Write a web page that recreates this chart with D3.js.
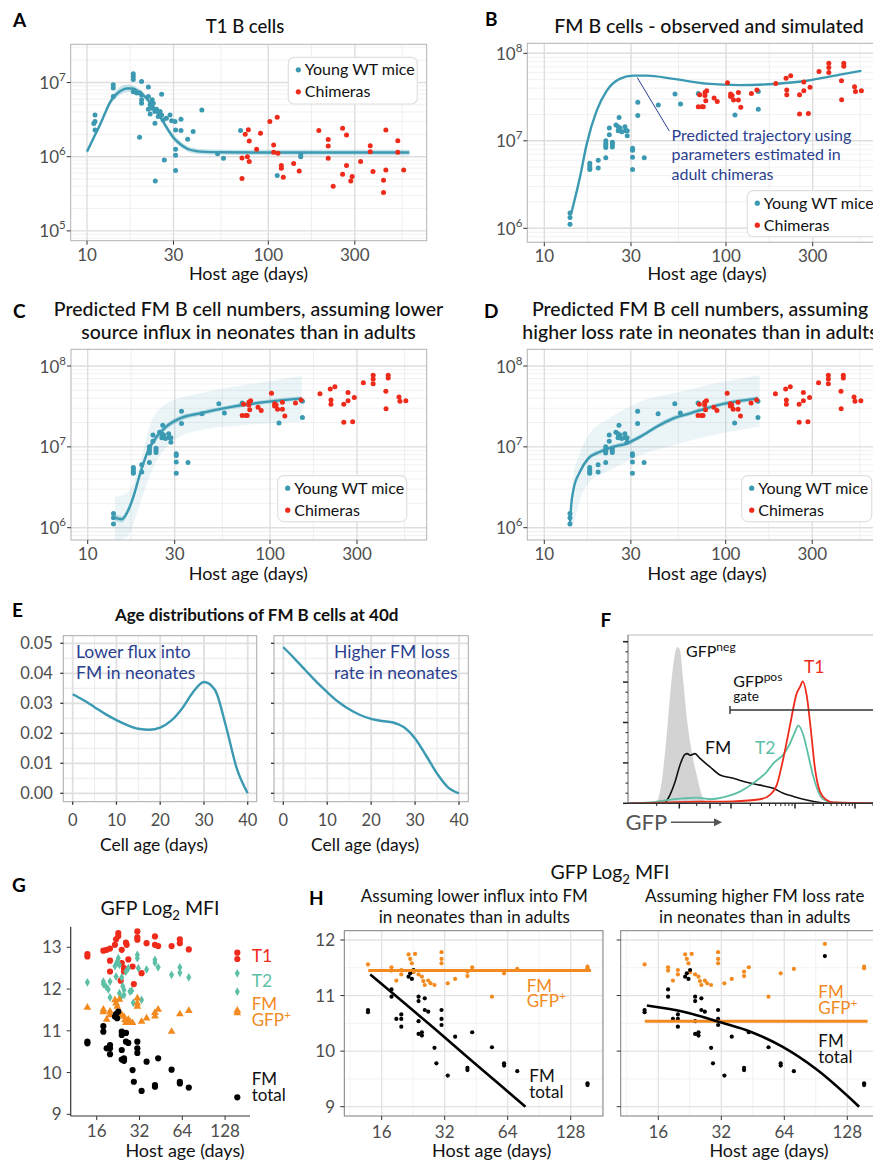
<!DOCTYPE html>
<html>
<head>
<meta charset="utf-8">
<title>FM B cell dynamics</title>
<script src="https://cdn.jsdelivr.net/npm/d3@7"></script>
<style>
  body { margin: 0; background: #fff; }
  svg { display: block; }
  text { font-family: Lato, "Open Sans", "DejaVu Sans", sans-serif; }
</style>
</head>
<body>
<div id="fig"></div>
<script>
/* ---------- values ---------- */

/* A : T1 B cells */
const t1YoungAge = [10.9, 11.07, 11.07, 11.07, 13.96, 13.96, 13.96, 18, 18, 18, 20, 21.8, 18, 18.8, 19.6, 20, 20, 20, 21.8, 22.3, 22.9, 23.2, 21.8, 22.3, 22.9, 23.7, 24.2, 24.7, 25.3, 25.8, 23.7, 19.5, 25.8, 26.3, 27.4, 28.7, 29.3, 30.6, 30.8, 33, 33, 38.5, 35.9, 43, 30.8, 30.8, 30.8, 23.8, 26.7, 52.5, 56.6, 70.3, 112, 151, 151];
const t1YoungCount = [2.8e6, 3.66e6, 2.97e6, 2.29e6, 9.3e6, 8.4e6, 6.5e6, 1.31e7, 1.2e7, 1.1e7, 1.03e7, 8.7e6, 7.5e6, 7.2e6, 7.2e6, 6.8e6, 5.84e6, 5.27e6, 6.46e6, 5.0e6, 5.84e6, 5.27e6, 4.37e6, 3.77e6, 4.5e6, 4.06e6, 4.37e6, 3.47e6, 4.06e6, 3.66e6, 2.82e6, 1.83e6, 6.95e6, 3.13e6, 3.3e6, 3.66e6, 3.06e6, 2.97e6, 2.29e6, 3.2e6, 2.25e6, 2.18e6, 1.72e6, 4.27e6, 1.26e6, 1.05e6, 0.65e6, 0.47e6, 0.9e6, 1.1e6, 0.95e6, 2.25e6, 0.56e6, 1.0e6, 1.07e6];
const t1ChimAge = [71.6, 71.6, 74.6, 77.6, 76.7, 78.5, 78.5, 86.2, 90.6, 102, 112, 107, 107, 113, 118, 118, 121, 138, 148, 190, 214, 214, 214, 228, 257, 257, 270, 270, 285, 290, 323, 365, 365, 378, 432, 432, 445, 445, 518, 518, 558];
const t1ChimCount = [0.96e6, 0.51e6, 2.0e6, 2.3e6, 1.0e6, 1.63e6, 0.86e6, 1.26e6, 2.07e6, 2.97e6, 3.4e6, 1.44e6, 1.15e6, 1.11e6, 0.76e6, 0.70e6, 0.53e6, 0.81e6, 0.64e6, 2.25e6, 1.71e6, 1.39e6, 0.95e6, 0.40e6, 2.41e6, 0.58e6, 1.96e6, 0.76e6, 0.47e6, 0.54e6, 0.86e6, 1.41e6, 1.17e6, 0.63e6, 0.48e6, 0.33e6, 2.29e6, 0.66e6, 1.64e6, 1.15e6, 0.66e6];
const t1FitAge = [10, 11, 11.8, 12.6, 13.4, 14.3, 15.3, 16.5, 17.8, 19.2, 20.8, 22.5, 24.2, 26, 28, 30, 33, 36, 40, 45, 55, 100, 600];
const t1Fit = [1.17e6, 1.9e6, 2.7e6, 3.9e6, 5.4e6, 6.7e6, 7.7e6, 8.3e6, 8.3e6, 7.6e6, 6.5e6, 5.2e6, 4.1e6, 3.1e6, 2.3e6, 1.8e6, 1.45e6, 1.27e6, 1.19e6, 1.16e6, 1.15e6, 1.14e6, 1.14e6];
const t1FitLo = [1.1e6, 1.75e6, 2.5e6, 3.6e6, 4.9e6, 6.0e6, 6.9e6, 7.4e6, 7.5e6, 7.0e6, 6.0e6, 4.8e6, 3.8e6, 2.85e6, 2.1e6, 1.65e6, 1.33e6, 1.17e6, 1.1e6, 1.07e6, 1.06e6, 1.05e6, 1.05e6];
const t1FitHi = [1.25e6, 2.05e6, 2.95e6, 4.3e6, 6.0e6, 7.5e6, 8.7e6, 9.3e6, 9.2e6, 8.3e6, 7.0e6, 5.6e6, 4.5e6, 3.4e6, 2.55e6, 2.0e6, 1.6e6, 1.38e6, 1.29e6, 1.26e6, 1.25e6, 1.24e6, 1.24e6];

/* B, C, D : FM B cells */
const fmYoungAge = [13.85, 13.85, 13.85, 17.8, 17.8, 17.8, 17.8, 19.8, 19.8, 21.8, 21.8, 21.8, 21.8, 21.8, 22.8, 22.8, 23.7, 23.7, 23.7, 24.8, 25.5, 25.8, 25.5, 26.1, 26.7, 27.8, 28.0, 28.6, 28.6, 30.6, 30.6, 30.6, 30.6, 32.7, 32.7, 35.5, 42.4, 52.4, 56.2, 70.4, 112, 150.6, 150.6];
const fmYoungCount = [1.5e6, 1.33e6, 1.11e6, 5.55e6, 5.2e6, 4.9e6, 4.7e6, 6.0e6, 4.9e6, 6.4e6, 1.0e7, 9.3e6, 8.8e6, 8.4e6, 1.4e7, 1.17e7, 9.6e6, 9.0e6, 8.5e6, 1.52e7, 1.45e7, 1.85e7, 1.3e7, 1.4e7, 1.27e7, 1.45e7, 1.3e7, 1.3e7, 1.14e7, 8.2e6, 7.8e6, 6.5e6, 4.7e6, 2.75e7, 1.95e7, 6.4e6, 2.56e7, 3.42e7, 2.63e7, 3.48e7, 1.97e7, 3.67e7, 2.3e7];
const fmChimAge = [70.4, 71.6, 73.7, 75, 76.6, 77.4, 76.6, 78.3, 86, 89.5, 101.9, 106, 106, 108, 110, 117, 117, 120.6, 138, 148, 188, 214, 216, 216, 227, 254, 254, 268, 268, 284, 290, 325, 368, 368, 368, 432, 433, 445, 445, 510, 516, 556];
const fmChimCount = [2.45e7, 3.36e7, 2.45e7, 2.45e7, 3.57e7, 2.87e7, 3.3e7, 3.73e7, 3.08e7, 2.82e7, 4.6e7, 3.42e7, 3.2e7, 3.3e7, 2.92e7, 3.57e7, 2.92e7, 2.41e7, 3.48e7, 3.8e7, 4.53e7, 5.2e7, 3.8e7, 3.36e7, 5.55e7, 3.36e7, 2.02e7, 4.7e7, 3.73e7, 2.05e7, 4.08e7, 6.2e7, 7.7e7, 6.9e7, 6.05e7, 4.86e7, 2.95e7, 7.7e7, 7.1e7, 4.15e7, 3.67e7, 3.73e7];

/* B : trajectory with adult-chimera parameters */
const simAge = [14.1, 15.7, 17.1, 19.4, 22.0, 26.0, 30.9, 36.6, 51.3, 78, 119, 183, 278, 424, 556];
const simCount = [1.5e6, 3.8e6, 9.1e6, 2.2e7, 3.7e7, 5.1e7, 5.55e7, 5.55e7, 5.1e7, 4.5e7, 4.33e7, 4.46e7, 4.86e7, 5.7e7, 6.3e7];

/* C : lower influx in neonates */
const fluxFitAge = [14.1, 15.4, 16.7, 17.8, 19.4, 21.5, 23.9, 26.9, 32.1, 41.3, 62.6, 95.6, 149.3];
const fluxFit = [1.33e6, 1.27e6, 1.65e6, 2.4e6, 4.7e6, 9.1e6, 1.33e7, 1.77e7, 2.25e7, 2.6e7, 3.15e7, 3.6e7, 3.98e7];
const fluxFitLo = [1.2e6, 1.16e6, 1.5e6, 2.15e6, 4.2e6, 8.2e6, 1.21e7, 1.63e7, 2.08e7, 2.42e7, 2.95e7, 3.4e7, 3.75e7];
const fluxFitHi = [1.47e6, 1.39e6, 1.82e6, 2.68e6, 5.2e6, 1.0e7, 1.46e7, 1.92e7, 2.42e7, 2.78e7, 3.35e7, 3.82e7, 4.22e7];
const fluxBandAge = [14.1, 16.4, 19.4, 22, 27.1, 32.1, 41.3, 62.6, 95.6, 149.3];
const fluxBandLo = [7.0e5, 7.7e5, 2.0e6, 4.5e6, 1.0e7, 1.34e7, 1.6e7, 1.81e7, 1.95e7, 2.05e7];
const fluxBandHi = [2.42e6, 2.66e6, 6.25e6, 1.9e7, 3.45e7, 4.0e7, 4.59e7, 5.55e7, 6.4e7, 7.5e7];

/* D : higher loss rate in neonates */
const lossFitAge = [13.85, 14.1, 14.45, 15.7, 17.5, 20.3, 24.0, 28.4, 33.7, 41.6, 51.5, 63.6, 78.5, 96.9, 119.7, 151];
const lossFit = [1.13e6, 2.0e6, 2.9e6, 4.9e6, 7.2e6, 8.7e6, 1.0e7, 1.1e7, 1.33e7, 1.77e7, 2.25e7, 2.6e7, 3.0e7, 3.4e7, 3.7e7, 3.98e7];
const lossFitLo = [1.06e6, 1.87e6, 2.7e6, 4.6e6, 6.75e6, 8.15e6, 9.4e6, 1.03e7, 1.25e7, 1.66e7, 2.11e7, 2.44e7, 2.82e7, 3.2e7, 3.48e7, 3.75e7];
const lossFitHi = [1.2e6, 2.14e6, 3.1e6, 5.2e6, 7.7e6, 9.3e6, 1.07e7, 1.18e7, 1.42e7, 1.89e7, 2.4e7, 2.77e7, 3.2e7, 3.62e7, 3.94e7, 4.24e7];
const lossBandAge = [13.85, 14.45, 15.7, 17.8, 22.0, 27.2, 33.7, 51.5, 78.5, 154];
const lossBandLo = [1.05e6, 1.13e6, 2.2e6, 3.7e6, 4.9e6, 6.25e6, 7.9e6, 1.05e7, 1.34e7, 1.78e7];
const lossBandHi = [1.2e6, 4.28e6, 8.3e6, 1.47e7, 2.15e7, 2.86e7, 3.62e7, 4.6e7, 5.8e7, 7.7e7];

const xBreaks = [10, 30, 100, 300];
const xMinorBreaks = [17.3, 54.8, 173, 548];

/* E : age distributions at 40 d */
const cellAge = [0, 2.5, 5, 7.5, 10, 12.5, 15, 17.5, 20, 22.5, 25, 27.5, 30, 32.5, 35, 37.5, 40];
const densFlux = [0.0330, 0.0310, 0.0287, 0.0264, 0.0244, 0.0227, 0.0215, 0.0212, 0.0219, 0.0242, 0.0283, 0.0337, 0.0371, 0.0345, 0.0225, 0.0083, 0.0];
const densLoss = [0.0487, 0.0450, 0.0411, 0.0372, 0.0337, 0.0305, 0.0280, 0.0261, 0.0248, 0.0241, 0.0236, 0.0220, 0.0183, 0.0126, 0.0066, 0.0020, 0.0];
const eXBreaks = [0, 10, 20, 30, 40];
const eXMinor = [5, 15, 25, 35];
const eYBreaks = [0, 0.01, 0.02, 0.03, 0.04, 0.05];
const eYMinor = [0.005, 0.015, 0.025, 0.035, 0.045];

/* F : GFP histograms (channel, relative count) */
const negCh = [28.7, 33.7, 38.7, 43.7, 47, 49.3, 52, 55.3, 59.3, 63.7, 68.7, 73.7, 78.7];
const negCount = [0, 0.53, 1.69, 3.09, 3.71, 3.87, 3.79, 3.01, 2.02, 1.28, 0.7, 0.21, 0];
const fmCh = [37, 42, 47, 52, 57, 59.3, 62, 67, 72, 82, 92, 105.3, 118.7, 132, 145.3, 155.3, 165.3, 178.7, 192, 202];
const fmHist = [0, 0.21, 0.53, 0.95, 1.21, 1.23, 1.19, 1.23, 1.11, 0.9, 0.7, 0.62, 0.52, 0.45, 0.37, 0.25, 0.17, 0.08, 0.02, 0];
const t2Ch = [0, 22, 38.7, 55, 68.7, 82, 98.7, 112, 125.3, 138.7, 145.3, 155.3, 162, 167, 170.3, 175.3, 180.3, 185.3, 190.3, 195.3, 205.3, 250];
const t2Hist = [0, 0.02, 0.08, 0.12, 0.14, 0.1, 0.17, 0.29, 0.5, 0.78, 0.99, 1.21, 1.48, 1.77, 1.93, 1.69, 1.19, 0.66, 0.29, 0.1, 0.02, 0];
const t1Ch = [0, 72, 105.3, 132, 142, 148.7, 155.3, 162, 168.7, 172, 174.7, 178.7, 182.7, 187, 192, 198.7, 205.3, 250];
const t1Hist = [0, 0.04, 0.05, 0.1, 0.21, 0.45, 1.11, 1.93, 2.72, 2.88, 3.02, 2.67, 1.85, 0.86, 0.29, 0.08, 0.02, 0];
const gateStart = 102, gateLevel = 2.31;
const fMajorTicks = [51.3, 82, 103, 167, 227];
const fMinorTicks = [28.7, 68.7, 92, 122.3, 133.5, 141.5, 147.7, 152.8, 157.1, 160.8, 164.1, 185, 195.6, 203.1, 208.9, 213.7, 217.7, 221.2, 224.3, 245];
const fCountTicks = [0, 1, 2, 3, 4];
const fCountMinor = [0.25, 0.5, 0.75, 1.25, 1.5, 1.75, 2.25, 2.5, 2.75, 3.25, 3.5, 3.75, 4.0];

/* G : GFP log2 MFI */
const gT1Age = [13.76, 13.76, 17.82, 18.8, 19.85, 19.85, 19.85, 21.5, 21.9, 22.7, 22.7, 24.0, 24.0, 23.6, 24.9, 24.9, 25.7, 26.0, 26.7, 28.6, 29.2, 30.9, 30.9, 30.9, 33.1, 35.9, 41.1, 41.1, 43.3, 53.8, 61.5, 61.5, 71.1];
const gT1 = [12.84, 12.78, 12.92, 12.94, 12.97, 12.68, 12.42, 13.06, 13.19, 13.34, 13.27, 12.94, 12.62, 12.2, 12.5, 12.42, 13.11, 13.06, 12.71, 12.54, 12.12, 13.38, 13.24, 13.18, 12.38, 13.1, 13.26, 13.06, 13.03, 13.03, 13.19, 13.1, 12.95];
const gT2Age = [13.76, 17.82, 17.82, 18.6, 19.3, 19.85, 19.85, 21.5, 22.1, 22.7, 22.3, 23.1, 21.9, 23.1, 23.6, 24.0, 24.4, 24.9, 24.9, 25.7, 26.7, 27.4, 28.2, 28.9, 30.9, 30.9, 31.4, 33.1, 35.9, 41.1, 41.1, 43.3, 53.8, 61.5, 61.5, 71.1];
const gT2 = [12.16, 12.18, 12.12, 12.06, 11.99, 12.18, 11.8, 12.55, 12.62, 12.74, 12.66, 12.58, 12.3, 11.9, 11.8, 12.28, 12.07, 11.98, 11.86, 12.42, 12.5, 11.94, 11.96, 11.67, 12.82, 12.74, 12.5, 11.74, 12.47, 12.7, 12.63, 12.52, 12.34, 12.52, 12.39, 12.28];
const gPosAge = [13.76, 17.82, 17.82, 19.85, 19.85, 18.8, 21.5, 21.9, 22.3, 22.7, 23.1, 24.0, 24.9, 25.3, 25.7, 26.7, 27.4, 28.6, 30.9, 30.9, 30.9, 33.1, 35.9, 41.1, 41.1, 43.3, 53.8, 61.5, 71.1];
const gPos = [11.56, 11.51, 11.45, 11.46, 11.38, 11.27, 11.74, 11.66, 11.58, 11.42, 11.75, 11.38, 11.34, 11.26, 11.19, 11.27, 11.22, 11.19, 11.78, 11.66, 11.58, 11.22, 11.3, 11.35, 11.43, 11.51, 10.98, 11.4, 11.48];
const gTotAge = [13.76, 13.76, 17.82, 17.82, 18.8, 19.85, 19.85, 19.85, 21.5, 21.9, 22.7, 22.3, 24.0, 24.0, 24.0, 24.0, 24.9, 24.9, 25.7, 25.7, 26.7, 28.6, 29.2, 30.9, 30.9, 30.9, 33.1, 35.9, 41.1, 41.1, 43.3, 53.8, 61.5, 61.5, 71.1];
const gTot = [10.74, 10.7, 11.11, 10.98, 10.58, 10.66, 10.58, 10.44, 11.34, 11.4, 11.46, 11.3, 10.98, 10.9, 10.54, 10.31, 10.34, 10.28, 10.95, 10.74, 10.71, 10.06, 9.78, 10.74, 10.58, 10.47, 9.56, 10.26, 9.7, 9.66, 10.34, 10.07, 9.78, 9.74, 9.64];
const gYBreaks = [9, 10, 11, 12, 13];
const log2Breaks = [16, 32, 64, 128];
const log2Minor = [11.3, 22.6, 45.3, 90.5, 181];

/* H : model fits of GFP MFI */
const hLateAge = [154, 154];
const hLatePos = [11.49, 11.52];
const hLateTot = [9.39, 9.42];
const hRightOnlyAge = [100];
const hRightOnlyPos = [11.93];
const hRightOnlyTot = [11.71];
const hFluxTotAge = [14.1, 19.6, 28.3, 40.9, 58.9, 77.8];
const hFluxTot = [11.38, 10.93, 10.42, 9.9, 9.39, 9.0];
const hFluxPosAge = [13.8, 160];
const hFluxPos = [11.45, 11.45];
const hLossTotAge = [14.1, 21.1, 32.3, 44.1, 62.6, 92.1, 145.8];
const hLossTot = [10.82, 10.71, 10.51, 10.35, 10.08, 9.66, 9.0];
const hLossPosAge = [13.8, 160];
const hLossPos = [10.54, 10.54];
const hYBreaks = [9, 10, 11, 12];
const hYMinor = [8.5, 9.5, 10.5, 11.5, 12.5];

/* ---------- drawing ---------- */
const TEAL = "#3b9ab2", RED = "#ee2a1b", GREEN = "#5cbfa6", ORANGE = "#f28a1f", NAVY = "#2b3f91", TICK = "#4d4d4d";

const svg = d3.select("#fig").append("svg").attr("width", 873).attr("height", 1162);
const defs = svg.append("defs");
let nClip = 0;

function clip(box) {
    const id = "clip" + (nClip++);
    defs.append("clipPath").attr("id", id).append("rect")
        .attr("x", box[0]).attr("y", box[1])
        .attr("width", box[2] - box[0]).attr("height", box[3] - box[1]);
    return "url(#" + id + ")";
}

function label(x, y, s, o) {
    o = o || {};
    return svg.append("text").attr("x", x).attr("y", y).text(s)
        .attr("font-size", o.size || 17).attr("fill", o.fill || "#111")
        .attr("text-anchor", o.anchor || "start").attr("font-weight", o.weight || 400);
}

function sup(x, y, base, exp, o) {
    o = o || {};
    const t = label(x, y, "", o);
    t.append("tspan").text(base);
    t.append("tspan").attr("dy", o.dy || -8).attr("font-size", o.supSize || 11.5).text(exp);
    return t;
}

function log2Title(x, y, size) {
    const t = label(x, y, "", { size: size, anchor: "middle" });
    t.append("tspan").text("GFP Log");
    t.append("tspan").attr("dy", 4.5).attr("font-size", size * 0.68).text("2");
    t.append("tspan").attr("dy", -4.5).text(" MFI");
}

function letter(x, y, s) {
    label(x, y, s, { size: 19, weight: 700, fill: "#000" })
        .attr("font-family", "'Liberation Sans', Arial, sans-serif");
}

function pairs(a, b) { return a.map((v, i) => [v, b[i]]); }

/* panels A-D: log-log plots */
function logPanel(p) {
    const [L, T, R, B] = p.box;
    const x = d3.scaleLog().domain([10, 100]).range(p.xr);
    const y = d3.scaleLog().domain([1e6, 1e8]).range(p.yr);

    const yMajor = [], yMinor = [];
    for (let e = 4; e <= 9; e++) {
        yMajor.push(Math.pow(10, e));
        for (let k = 2; k <= 9; k++) yMinor.push(k * Math.pow(10, e));
    }
    const grid = svg.append("g").attr("clip-path", clip(p.box));
    const hl = (data, col, w) => grid.selectAll(null).data(data).join("line")
        .attr("x1", L).attr("x2", R).attr("y1", d => y(d)).attr("y2", d => y(d))
        .attr("stroke", col).attr("stroke-width", w);
    const vl = (data, col, w) => grid.selectAll(null).data(data).join("line")
        .attr("y1", T).attr("y2", B).attr("x1", d => x(d)).attr("x2", d => x(d))
        .attr("stroke", col).attr("stroke-width", w);
    hl(yMinor, "#ebebeb", 0.7);
    vl(xMinorBreaks, "#ebebeb", 0.8);
    hl(yMajor, "#dedede", 1.4);
    vl(xBreaks, "#dedede", 1.4);

    const marks = svg.append("g").attr("clip-path", clip(p.box));
    p.bands.forEach(b => {
        const area = d3.area().curve(d3.curveMonotoneX)
            .x(d => x(d[0])).y0(d => y(d[1])).y1(d => y(d[2]));
        marks.append("path")
            .attr("d", area(b.age.map((a, i) => [a, b.lo[i], b.hi[i]])))
            .attr("fill", TEAL).attr("fill-opacity", b.op);
    });
    if (p.fit) {
        const line = d3.line().curve(d3.curveMonotoneX).x(d => x(d[0])).y(d => y(d[1]));
        marks.append("path").attr("d", line(pairs(p.fit.age, p.fit.val)))
            .attr("fill", "none").attr("stroke", TEAL).attr("stroke-width", 2.4);
    }
    p.series.forEach(s => {
        marks.selectAll(null).data(pairs(s.age, s.val)).join("circle")
            .attr("cx", d => x(d[0])).attr("cy", d => y(d[1]))
            .attr("r", 2.5).attr("fill", s.color);
    });

    svg.append("rect").attr("x", L).attr("y", T).attr("width", R - L).attr("height", B - T)
        .attr("fill", "none").attr("stroke", "#b3b3b3").attr("stroke-width", 1);

    /* Y axis */
    p.yExp.forEach(e => {
        const yy = y(Math.pow(10, e));
        svg.append("line").attr("x1", L - 4).attr("x2", L).attr("y1", yy).attr("y2", yy)
            .attr("stroke", "#333");
        sup(L - 5, yy + 6.5, "10", e, { size: 17, fill: TICK, anchor: "end", dy: -8, supSize: 11.5 });
    });
    /* X axis */
    svg.append("g").selectAll(null).data(xBreaks).join("line")
        .attr("x1", d => x(d)).attr("x2", d => x(d)).attr("y1", B).attr("y2", B + 4)
        .attr("stroke", "#333");
    xBreaks.forEach(v => label(x(v), B + 20, v, { size: 17, fill: TICK, anchor: "middle" }));
    label(p.xTitle[0], p.xTitle[1], "Host age (days)", { size: 18, anchor: "middle" });

    p.title.forEach((s, i) => label(p.titleX, p.titleY + i * 23.3, s, { size: p.titleSize, anchor: "middle", weight: 500 }));
    letter(p.letter[0], p.letter[1], p.letter[2]);

    /* legend */
    const lg = p.legend;
    svg.append("rect").attr("x", lg[0]).attr("y", lg[1]).attr("width", lg[2] - lg[0]).attr("height", lg[3] - lg[1])
        .attr("rx", 6).attr("fill", "#fff").attr("stroke", "#e0e0e0").attr("stroke-width", 1.2);
    [["Young WT mice", TEAL], ["Chimeras", RED]].forEach((it, i) => {
        const cy = lg[1] + 12.5 + i * 22;
        svg.append("circle").attr("cx", lg[0] + 10).attr("cy", cy).attr("r", 2.6).attr("fill", it[1]);
        label(lg[0] + 16.5, cy + 5.5, it[0], { size: 16 });
    });
    return { x, y };
}

const youngA = { age: t1YoungAge, val: t1YoungCount, color: TEAL };
const chimA = { age: t1ChimAge, val: t1ChimCount, color: RED };
const youngFM = { age: fmYoungAge, val: fmYoungCount, color: TEAL };
const chimFM = { age: fmChimAge, val: fmChimCount, color: RED };

logPanel({
    box: [70.7, 44.3, 426.7, 240.7], xr: [87, 268.3], yr: [156.7, 8.3],
    bands: [{ age: t1FitAge, lo: t1FitLo, hi: t1FitHi, op: 0.28 }],
    fit: { age: t1FitAge, val: t1Fit },
    series: [youngA, chimA], yExp: [5, 6, 7],
    title: ["T1 B cells"], titleX: 245, titleY: 33, titleSize: 18.5,
    xTitle: [248.5, 280], letter: [13, 27, "A"],
    legend: [288.3, 57.3, 417.3, 104]
});

const pB = logPanel({
    box: [527.3, 43.3, 880, 242.3], xr: [544.3, 726], yr: [228.3, 53.3],
    bands: [], fit: { age: simAge, val: simCount },
    series: [youngFM, chimFM], yExp: [6, 7, 8],
    title: ["FM B cells - observed and simulated"], titleX: 709, titleY: 32.5, titleSize: 19.5,
    xTitle: [707, 280], letter: [485, 26, "B"],
    legend: [747.3, 190.7, 885, 236.7]
});
/* annotation of the simulated trajectory */
svg.append("line")
    .attr("x1", pB.x(simAge[6]) + 4).attr("y1", pB.y(simCount[6]) + 2)
    .attr("x2", 669.3).attr("y2", 131)
    .attr("stroke", NAVY).attr("stroke-width", 1);
["Predicted trajectory using", "parameters estimated in", "adult chimeras"]
    .forEach((s, i) => label(671.5, 141 + i * 19.3, s, { size: 16, fill: NAVY }));

logPanel({
    box: [71, 349.3, 426.7, 540], xr: [87.7, 270], yr: [527.7, 366],
    bands: [{ age: fluxBandAge, lo: fluxBandLo, hi: fluxBandHi, op: 0.1 },
            { age: fluxFitAge, lo: fluxFitLo, hi: fluxFitHi, op: 0.3 }],
    fit: { age: fluxFitAge, val: fluxFit },
    series: [youngFM, chimFM], yExp: [6, 7, 8],
    title: ["Predicted FM B cell numbers, assuming lower", "source influx in neonates than in adults"],
    titleX: 248.5, titleY: 316, titleSize: 19.5,
    xTitle: [248.3, 580], letter: [13, 318, "C"],
    legend: [277.7, 475.7, 406.7, 521.7]
});

logPanel({
    box: [527.3, 349.3, 880, 540], xr: [544.3, 725.7], yr: [527.7, 366],
    bands: [{ age: lossBandAge, lo: lossBandLo, hi: lossBandHi, op: 0.1 },
            { age: lossFitAge, lo: lossFitLo, hi: lossFitHi, op: 0.3 }],
    fit: { age: lossFitAge, val: lossFit },
    series: [youngFM, chimFM], yExp: [6, 7, 8],
    title: ["Predicted FM B cell numbers, assuming", "higher loss rate in neonates than in adults"],
    titleX: 700, titleY: 316, titleSize: 19.5,
    xTitle: [707, 580], letter: [484, 318, "D"],
    legend: [741.7, 475.7, 871.7, 521.7]
});

/* panel E */
const eY = d3.scaleLinear().domain([0, 0.05]).range([793.3, 643.3]);
function ePanel(box, xr, vals, withY, note, noteX) {
    const [L, T, R, B] = box;
    const x = d3.scaleLinear().domain([0, 40]).range(xr);
    const g = svg.append("g").attr("clip-path", clip(box));
    const hl = (data, col, w) => g.selectAll(null).data(data).join("line")
        .attr("x1", L).attr("x2", R).attr("y1", d => eY(d)).attr("y2", d => eY(d))
        .attr("stroke", col).attr("stroke-width", w);
    const vl = (data, col, w) => g.selectAll(null).data(data).join("line")
        .attr("y1", T).attr("y2", B).attr("x1", d => x(d)).attr("x2", d => x(d))
        .attr("stroke", col).attr("stroke-width", w);
    hl(eYMinor, "#ebebeb", 1);
    vl(eXMinor, "#ebebeb", 1);
    hl(eYBreaks, "#e0e0e0", 1.8);
    vl(eXBreaks, "#e0e0e0", 1.8);
    const line = d3.line().curve(d3.curveMonotoneX).x(d => x(d[0])).y(d => eY(d[1]));
    g.append("path").attr("d", line(pairs(cellAge, vals)))
        .attr("fill", "none").attr("stroke", TEAL).attr("stroke-width", 2.4);
    svg.append("rect").attr("x", L).attr("y", T).attr("width", R - L).attr("height", B - T)
        .attr("fill", "none").attr("stroke", "#a8a8a8");
    svg.append("g").selectAll(null).data(eYBreaks).join("line")
        .attr("x1", L - 3).attr("x2", L).attr("y1", d => eY(d)).attr("y2", d => eY(d))
        .attr("stroke", "#333").attr("stroke-width", 1.3);
    svg.append("g").selectAll(null).data(eXBreaks).join("line")
        .attr("x1", d => x(d)).attr("x2", d => x(d)).attr("y1", B).attr("y2", B + 3)
        .attr("stroke", "#333").attr("stroke-width", 1.3);
    if (withY) eYBreaks.forEach(v => label(L - 10.5, eY(v) + 6, v.toFixed(2), { size: 16.5, fill: TICK, anchor: "end" }));
    eXBreaks.forEach(v => label(x(v), 825.5, v, { size: 16.5, fill: TICK, anchor: "middle" }));
    label((L + R) / 2 - 6, 850.5, "Cell age (days)", { size: 17.5, anchor: "middle" });
    note.forEach((s, i) => label(noteX, 658.3 + i * 21, s, { size: 17.5, fill: NAVY }));
}
ePanel([63.3, 635.7, 256.7, 801.7], [72.7, 247.7], densFlux, true, ["Lower flux into", "FM in neonates"], 76);
ePanel([274, 635.7, 468.3, 801.7], [283.3, 459], densLoss, false, ["Higher FM loss", "rate in neonates"], 334);
label(256.7, 621, "Age distributions of FM B cells at 40d", { size: 17, weight: 700, anchor: "middle" });
letter(12, 617, "E");

/* panel F */
const fx = d3.scaleLinear().domain([0, 250]).range([628, 878]);
const fy = d3.scaleLinear().domain([0, 4]).range([803.3, 641.7]);
const fClip = svg.append("g").attr("clip-path", clip([628, 635, 873, 803.3]));
fClip.append("path")
    .attr("d", d3.area().curve(d3.curveMonotoneX).x(d => fx(d[0])).y0(fy(0)).y1(d => fy(d[1]))(pairs(negCh, negCount)))
    .attr("fill", "#d3d3d3");
const fLine = d3.line().curve(d3.curveMonotoneX).x(d => fx(d[0])).y(d => fy(d[1]));
fClip.append("path").attr("d", fLine(pairs(fmCh, fmHist))).attr("fill", "none").attr("stroke", "#111").attr("stroke-width", 1.6);
fClip.append("path").attr("d", fLine(pairs(t2Ch, t2Hist))).attr("fill", "none").attr("stroke", GREEN).attr("stroke-width", 1.8);
fClip.append("path").attr("d", fLine(pairs(t1Ch, t1Hist))).attr("fill", "none").attr("stroke", RED).attr("stroke-width", 1.8);
svg.append("rect").attr("x", 628).attr("y", 635).attr("width", 260).attr("height", 168.3)
    .attr("fill", "none").attr("stroke", "#bdbdbd");
svg.append("line").attr("x1", 628).attr("x2", 873).attr("y1", 803.3).attr("y2", 803.3).attr("stroke", "#333").attr("stroke-width", 1.5);
svg.append("line").attr("x1", 628).attr("x2", 628).attr("y1", 635).attr("y2", 803.3).attr("stroke", "#888").attr("stroke-width", 1);
svg.append("g").selectAll(null).data(fCountTicks).join("line")
    .attr("x1", 623).attr("x2", 628).attr("y1", d => fy(d)).attr("y2", d => fy(d)).attr("stroke", "#222").attr("stroke-width", 1.5);
svg.append("g").selectAll(null).data(fCountMinor).join("line")
    .attr("x1", 625.5).attr("x2", 628).attr("y1", d => fy(d)).attr("y2", d => fy(d)).attr("stroke", "#222").attr("stroke-width", 1);
svg.append("g").selectAll(null).data(fMajorTicks).join("line")
    .attr("x1", d => fx(d)).attr("x2", d => fx(d)).attr("y1", 803.3).attr("y2", 808.5).attr("stroke", "#222").attr("stroke-width", 1.5);
svg.append("g").selectAll(null).data(fMinorTicks).join("line")
    .attr("x1", d => fx(d)).attr("x2", d => fx(d)).attr("y1", 803.3).attr("y2", 806).attr("stroke", "#222").attr("stroke-width", 1);
/* gate */
svg.append("line").attr("x1", fx(gateStart)).attr("x2", 880).attr("y1", fy(gateLevel)).attr("y2", fy(gateLevel)).attr("stroke", "#333").attr("stroke-width", 1.4);
svg.append("line").attr("x1", fx(gateStart)).attr("x2", fx(gateStart)).attr("y1", fy(gateLevel) - 4).attr("y2", fy(gateLevel) + 4).attr("stroke", "#333").attr("stroke-width", 1.4);
sup(686, 656.7, "GFP", "neg", { size: 16, supSize: 12, dy: -6 });
sup(733.3, 686.7, "GFP", "pos", { size: 16, supSize: 12, dy: -6 });
label(733.3, 701, "gate", { size: 13.5 });
label(804, 673.3, "T1", { size: 17.5, fill: RED });
label(705, 754, "FM", { size: 17.5 });
label(755, 754, "T2", { size: 17.5, fill: GREEN });
label(625.5, 829.5, "GFP", { size: 22, fill: "#555" });
svg.append("line").attr("x1", 671).attr("x2", 715).attr("y1", 822.3).attr("y2", 822.3).attr("stroke", "#555").attr("stroke-width", 1.6);
svg.append("path").attr("d", "M714,818.3 L722,822.3 L714,826.3 Z").attr("fill", "#555");
letter(600.5, 626.7, "F");

/* panel G */
const gx = d3.scaleLog().base(2).domain([16, 128]).range([96.7, 225.1]);
const gy = d3.scaleLinear().domain([9, 13]).range([1114.3, 947.3]);
function gSeries(age, val, draw) {
    return svg.append("g").selectAll(null).data(pairs(age, val)).join("path")
        .attr("transform", d => "translate(" + gx(d[0]) + "," + gy(d[1]) + ")")
        .attr("d", draw);
}
gSeries(gT1Age, gT1, d3.symbol(d3.symbolCircle, 30)).attr("fill", RED);
gSeries(gT2Age, gT2, d3.symbol(d3.symbolDiamond, 22)).attr("fill", GREEN);
gSeries(gPosAge, gPos, d3.symbol(d3.symbolTriangle, 26)).attr("fill", ORANGE);
gSeries(gTotAge, gTot, d3.symbol(d3.symbolCircle, 30)).attr("fill", "#000");
svg.append("line").attr("x1", 70.7).attr("x2", 70.7).attr("y1", 926.7).attr("y2", 1116).attr("stroke", "#333").attr("stroke-width", 1.2);
svg.append("line").attr("x1", 70.7).attr("x2", 250).attr("y1", 1116).attr("y2", 1116).attr("stroke", "#333").attr("stroke-width", 1.2);
gYBreaks.forEach(v => {
    svg.append("line").attr("x1", 66.7).attr("x2", 70.7).attr("y1", gy(v)).attr("y2", gy(v)).attr("stroke", "#333");
    label(61.7, gy(v) + 6, v, { size: 17, fill: TICK, anchor: "end" });
});
log2Breaks.forEach(v => {
    svg.append("line").attr("x1", gx(v)).attr("x2", gx(v)).attr("y1", 1116).attr("y2", 1120).attr("stroke", "#333");
    label(gx(v), 1136.7, v, { size: 17, fill: TICK, anchor: "middle" });
});
label(185, 1156.7, "Host age (days)", { size: 18, anchor: "middle" });
log2Title(160, 915, 19.5);
letter(12, 891.7, "G");
/* legend of G */
const legX = 237.3;
[952.7, 959].forEach(yy => svg.append("path").attr("transform", "translate(" + legX + "," + yy + ")").attr("d", d3.symbol(d3.symbolCircle, 30)).attr("fill", RED));
[973.3, 991.7].forEach(yy => svg.append("path").attr("transform", "translate(" + legX + "," + yy + ")").attr("d", d3.symbol(d3.symbolDiamond, 22)).attr("fill", GREEN));
[1010.5, 1013].forEach(yy => svg.append("path").attr("transform", "translate(" + legX + "," + yy + ")").attr("d", d3.symbol(d3.symbolTriangle, 26)).attr("fill", ORANGE));
svg.append("path").attr("transform", "translate(" + legX + "," + 1097.3 + ")").attr("d", d3.symbol(d3.symbolCircle, 30)).attr("fill", "#000");
label(251.7, 961.7, "T1", { size: 17.5, fill: RED });
label(251.7, 986.7, "T2", { size: 17.5, fill: GREEN });
label(251.7, 1009.5, "FM", { size: 17, fill: ORANGE });
sup(251.7, 1025.5, "GFP", "+", { size: 17, fill: ORANGE, supSize: 12, dy: -7 });
label(251.7, 1084.5, "FM", { size: 17 });
label(251.7, 1100.5, "total", { size: 17 });

/* panel H */
const hy = d3.scaleLinear().domain([9, 12]).range([1106.7, 940]);
function hPanel(p) {
    const [L, T, R, B] = p.box;
    const x = d3.scaleLog().base(2).domain([16, 128]).range([p.x16, p.x16 + 189]);
    const g = svg.append("g").attr("clip-path", clip(p.box));
    const hl = (data, col, w) => g.selectAll(null).data(data).join("line")
        .attr("x1", L).attr("x2", R).attr("y1", d => hy(d)).attr("y2", d => hy(d))
        .attr("stroke", col).attr("stroke-width", w);
    const vl = (data, col, w) => g.selectAll(null).data(data).join("line")
        .attr("y1", T).attr("y2", B).attr("x1", d => x(d)).attr("x2", d => x(d))
        .attr("stroke", col).attr("stroke-width", w);
    hl(hYMinor, "#efefef", 0.8);
    vl(log2Minor, "#efefef", 0.8);
    hl(hYBreaks, "#e3e3e3", 1.3);
    vl(log2Breaks, "#e3e3e3", 1.3);
    const dots = (age, val, col) => g.selectAll(null).data(pairs(age, val)).join("circle")
        .attr("cx", d => x(d[0])).attr("cy", d => hy(d[1])).attr("r", 2.1).attr("fill", col);
    dots(gPosAge.concat(p.extraAge), gPos.concat(p.extraPos), ORANGE);
    dots(gTotAge.concat(p.extraAge), gTot.concat(p.extraTot), "#000");
    const line = d3.line().curve(d3.curveMonotoneX).x(d => x(d[0])).y(d => hy(d[1]));
    g.append("path").attr("d", line(pairs(p.posAge, p.pos))).attr("fill", "none").attr("stroke", ORANGE).attr("stroke-width", 3);
    g.append("path").attr("d", line(pairs(p.totAge, p.tot))).attr("fill", "none").attr("stroke", "#000").attr("stroke-width", 2.6);
    svg.append("rect").attr("x", L).attr("y", T).attr("width", R - L).attr("height", B - T)
        .attr("fill", "none").attr("stroke", "#7d7d7d");
    hYBreaks.forEach(v => {
        svg.append("line").attr("x1", L - 4).attr("x2", L).attr("y1", hy(v)).attr("y2", hy(v)).attr("stroke", "#333");
        if (p.withY) label(L - 9.3, hy(v) + 6, v, { size: 17, fill: TICK, anchor: "end" });
    });
    log2Breaks.forEach(v => {
        svg.append("line").attr("x1", x(v)).attr("x2", x(v)).attr("y1", B).attr("y2", B + 4).attr("stroke", "#333");
        label(x(v), 1138.3, v, { size: 17, fill: TICK, anchor: "middle" });
    });
    label(p.xTitleX, 1156.7, "Host age (days)", { size: 18, anchor: "middle" });
    p.title.forEach((s, i) => label(p.titleX, 901.7 + i * 21, s, { size: 17, anchor: "middle" }));
    label(p.posLab[0], p.posLab[1], "FM", { size: 17, fill: ORANGE });
    sup(p.posLab[0], p.posLab[1] + 15.5, "GFP", "+", { size: 17, fill: ORANGE, supSize: 12, dy: -7 });
    label(p.totLab[0], p.totLab[1], "FM", { size: 17 });
    label(p.totLab[0], p.totLab[1] + 16.5, "total", { size: 17 });
}
hPanel({
    box: [344.3, 930.7, 603, 1116], x16: 381.7, withY: true,
    extraAge: hLateAge, extraPos: hLatePos, extraTot: hLateTot,
    posAge: hFluxPosAge, pos: hFluxPos, totAge: hFluxTotAge, tot: hFluxTot,
    title: ["Assuming lower influx into FM", "in neonates than in adults"], titleX: 474.3,
    xTitleX: 491.7, posLab: [526.7, 991.5], totLab: [529.3, 1081.5]
});
hPanel({
    box: [620.7, 930.7, 880, 1116], x16: 658.3, withY: false,
    extraAge: hLateAge.concat(hRightOnlyAge), extraPos: hLatePos.concat(hRightOnlyPos), extraTot: hLateTot.concat(hRightOnlyTot),
    posAge: hLossPosAge, pos: hLossPos, totAge: hLossTotAge, tot: hLossTot,
    title: ["Assuming higher FM loss rate", "in neonates than in adults"], titleX: 754.7,
    xTitleX: 769, posLab: [818.3, 998], totLab: [818.3, 1046.5]
});
log2Title(610, 879.3, 19.5);
letter(309, 905, "H");
</script>
</body>
</html>
